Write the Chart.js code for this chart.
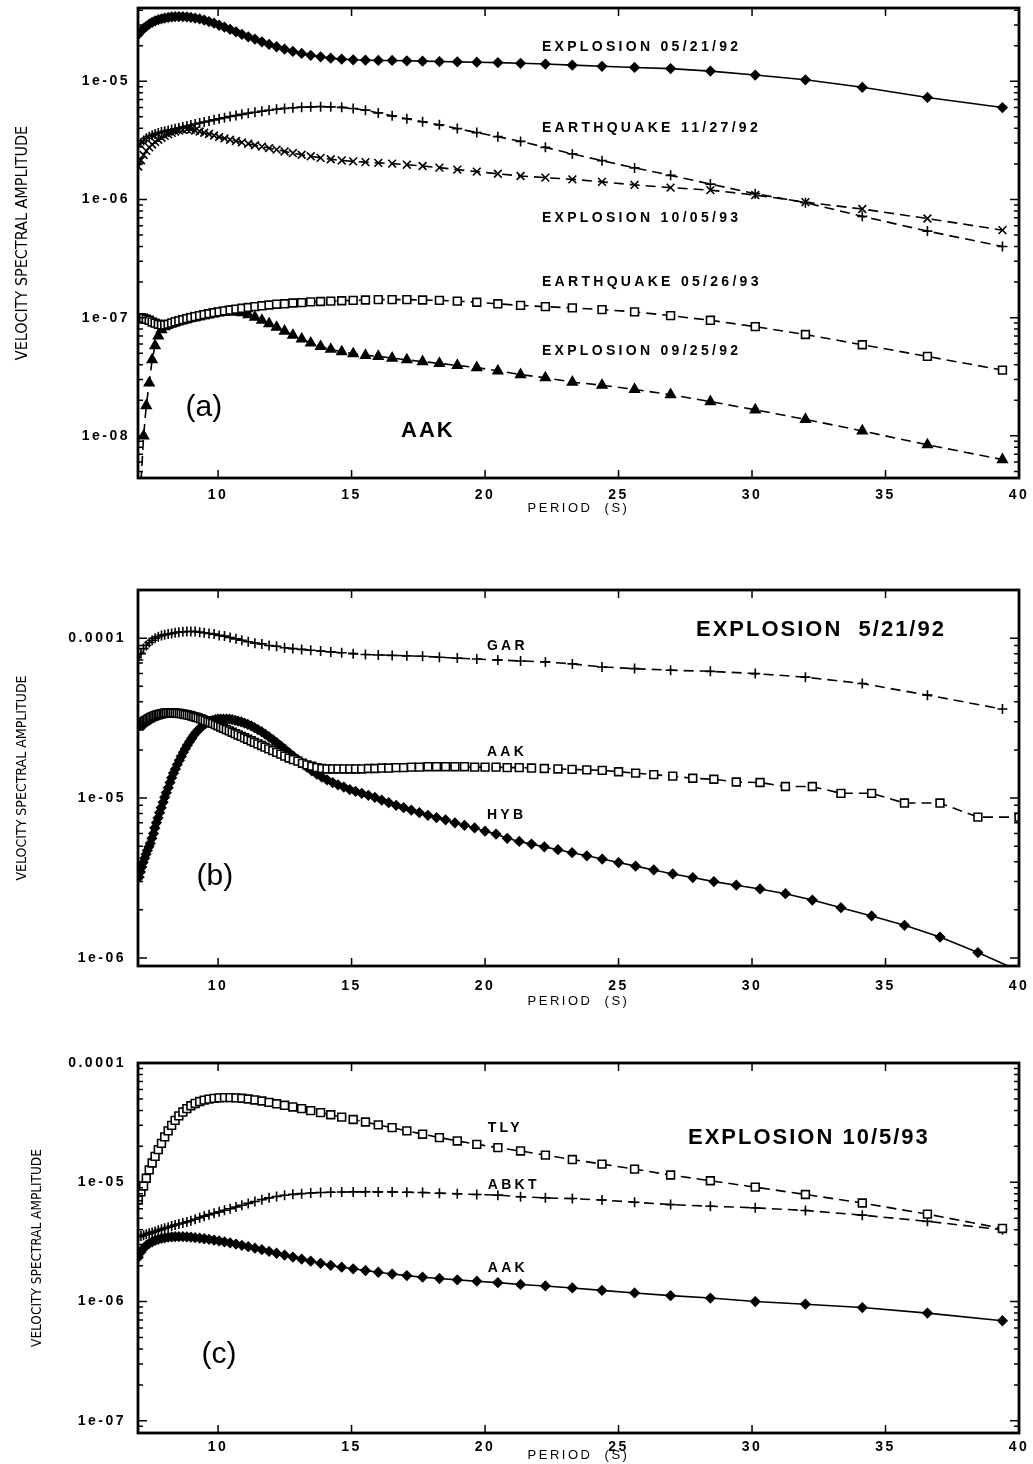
<!DOCTYPE html>
<html>
<head>
<meta charset="utf-8">
<script src="https://cdn.jsdelivr.net/npm/chart.js@4.4.1/dist/chart.umd.min.js"></script>
<style>
body { margin: 0; background: #fff; }
canvas { position: absolute; left: 0; }
</style>
</head>
<body>
<canvas id="panelA" width="1033" height="516" style="top:0px"></canvas>
<canvas id="panelB" width="1033" height="429" style="top:580px"></canvas>
<canvas id="panelC" width="1033" height="410" style="top:1053px"></canvas>
<script>
// sampling periods (s), 1/512 Hz spacing
const periods = [
  7.01, 7.11, 7.21, 7.31, 7.42, 7.53, 7.64, 7.76, 7.88,
  8.00, 8.13, 8.26, 8.39, 8.53, 8.68, 8.83, 8.98,
  9.14, 9.31, 9.48, 9.66, 9.85,
  10.04, 10.24, 10.45, 10.67, 10.89,
  11.13, 11.38, 11.64, 11.91,
  12.19, 12.49, 12.80,
  13.13, 13.47, 13.84,
  14.22, 14.63, 15.06, 15.52, 16.00, 16.52, 17.07, 17.66, 18.29, 18.96,
  19.69, 20.48, 21.33, 22.26, 23.27, 24.38, 25.60, 26.95, 28.44, 30.12,
  32.00, 34.13, 36.57, 39.38
];

// finer sampling (0.001 Hz) used for AAK and HYB in (b)
const periodsFine = [
  7.04, 7.09, 7.14, 7.19, 7.25, 7.30, 7.35, 7.41, 7.46, 7.52,
  7.58, 7.63, 7.69, 7.75, 7.81, 7.87, 7.94, 8.00, 8.06, 8.13,
  8.20, 8.26, 8.33, 8.40, 8.47, 8.55, 8.62, 8.70, 8.77, 8.85,
  8.93, 9.01, 9.09, 9.17, 9.26, 9.35, 9.43, 9.52, 9.62, 9.71,
  9.80, 9.90, 10.00, 10.10, 10.20, 10.31, 10.42, 10.53, 10.64, 10.75,
  10.87, 10.99, 11.11, 11.24, 11.36, 11.49, 11.63, 11.76, 11.90, 12.05,
  12.20, 12.35, 12.50, 12.66, 12.82, 12.99, 13.16, 13.33, 13.51, 13.70,
  13.89, 14.08, 14.29, 14.49, 14.71, 14.93, 15.15, 15.38, 15.63, 15.87,
  16.13, 16.39, 16.67, 16.95, 17.24, 17.54, 17.86, 18.18, 18.52, 18.87,
  19.23, 19.61, 20.00, 20.41, 20.83, 21.28, 21.74, 22.22, 22.73, 23.26,
  23.81, 24.39, 25.00, 25.64, 26.32, 27.03, 27.78, 28.57, 29.41, 30.30,
  31.25, 32.26, 33.33, 34.48, 35.71, 37.04, 38.46, 40.00
];

const periodTicks = [10, 15, 20, 25, 30, 35, 40];

// (a) station AAK, five events
const aakExp920521 = [
  2.5e-5, 2.65e-5, 2.8e-5, 2.92e-5, 3.05e-5, 3.15e-5, 3.24e-5, 3.32e-5, 3.38e-5,
  3.43e-5, 3.47e-5, 3.5e-5, 3.52e-5, 3.53e-5, 3.52e-5, 3.5e-5, 3.47e-5,
  3.43e-5, 3.37e-5, 3.3e-5, 3.2e-5, 3.1e-5,
  2.98e-5, 2.87e-5, 2.75e-5, 2.62e-5, 2.5e-5,
  2.38e-5, 2.27e-5, 2.16e-5, 2.05e-5,
  1.96e-5, 1.87e-5, 1.79e-5,
  1.72e-5, 1.66e-5, 1.61e-5,
  1.57e-5, 1.54e-5, 1.52e-5, 1.51e-5, 1.5e-5, 1.5e-5, 1.49e-5, 1.48e-5, 1.47e-5, 1.46e-5,
  1.45e-5, 1.44e-5, 1.42e-5, 1.4e-5, 1.37e-5, 1.34e-5, 1.31e-5, 1.28e-5, 1.22e-5, 1.13e-5,
  1.03e-5, 8.9e-6, 7.3e-6, 6.0e-6
];
const aakEq921127 = [
  2.8e-6, 3.0e-6, 3.15e-6, 3.3e-6, 3.4e-6, 3.5e-6, 3.58e-6, 3.65e-6, 3.72e-6,
  3.78e-6, 3.84e-6, 3.9e-6, 3.96e-6, 4.02e-6, 4.1e-6, 4.18e-6, 4.26e-6,
  4.35e-6, 4.44e-6, 4.53e-6, 4.62e-6, 4.72e-6,
  4.82e-6, 4.92e-6, 5.03e-6, 5.14e-6, 5.25e-6,
  5.36e-6, 5.47e-6, 5.58e-6, 5.69e-6,
  5.8e-6, 5.9e-6, 5.98e-6,
  6.04e-6, 6.08e-6, 6.1e-6,
  6.08e-6, 6.02e-6, 5.88e-6, 5.7e-6, 5.4e-6, 5.1e-6, 4.82e-6, 4.55e-6, 4.28e-6, 3.98e-6,
  3.68e-6, 3.4e-6, 3.1e-6, 2.76e-6, 2.43e-6, 2.13e-6, 1.85e-6, 1.6e-6, 1.35e-6, 1.12e-6,
  9.4e-7, 7.2e-7, 5.4e-7, 4.0e-7
];
const aakExp931005 = [
  1.9e-6, 2.15e-6, 2.38e-6, 2.58e-6, 2.76e-6, 2.92e-6, 3.07e-6, 3.2e-6, 3.33e-6,
  3.45e-6, 3.56e-6, 3.66e-6, 3.75e-6, 3.83e-6, 3.89e-6, 3.92e-6, 3.9e-6,
  3.84e-6, 3.76e-6, 3.67e-6, 3.58e-6, 3.48e-6,
  3.38e-6, 3.29e-6, 3.2e-6, 3.12e-6, 3.04e-6,
  2.96e-6, 2.88e-6, 2.8e-6, 2.72e-6,
  2.64e-6, 2.55e-6, 2.47e-6,
  2.39e-6, 2.32e-6, 2.25e-6,
  2.19e-6, 2.14e-6, 2.1e-6, 2.07e-6, 2.04e-6, 2.01e-6, 1.97e-6, 1.92e-6, 1.86e-6, 1.79e-6,
  1.72e-6, 1.65e-6, 1.58e-6, 1.53e-6, 1.48e-6, 1.41e-6, 1.33e-6, 1.26e-6, 1.2e-6, 1.09e-6,
  9.5e-7, 8.3e-7, 6.9e-7, 5.5e-7
];
const aakEq930526 = [
  1.0e-7, 1.0e-7, 9.9e-8, 9.7e-8, 9.5e-8, 9.2e-8, 9.0e-8, 8.8e-8, 8.7e-8,
  8.7e-8, 8.8e-8, 9.0e-8, 9.2e-8, 9.4e-8, 9.6e-8, 9.8e-8, 1.0e-7,
  1.02e-7, 1.04e-7, 1.06e-7, 1.08e-7, 1.1e-7,
  1.12e-7, 1.14e-7, 1.16e-7, 1.18e-7, 1.2e-7,
  1.22e-7, 1.24e-7, 1.26e-7, 1.28e-7,
  1.3e-7, 1.31e-7, 1.33e-7,
  1.34e-7, 1.36e-7, 1.37e-7,
  1.38e-7, 1.39e-7, 1.4e-7, 1.41e-7, 1.42e-7, 1.42e-7, 1.42e-7, 1.41e-7, 1.4e-7, 1.38e-7,
  1.35e-7, 1.31e-7, 1.27e-7, 1.24e-7, 1.21e-7, 1.17e-7, 1.12e-7, 1.04e-7, 9.5e-8, 8.4e-8,
  7.2e-8, 5.9e-8, 4.7e-8, 3.6e-8
];
const aakExp920925 = [
  3e-9, 4e-9, 1.0e-8, 1.8e-8, 2.8e-8, 4.4e-8, 5.8e-8, 7.0e-8, 7.9e-8,
  8.4e-8, 8.7e-8, 8.9e-8, 9.1e-8, 9.3e-8, 9.5e-8, 9.7e-8, 9.9e-8,
  1.0e-7, 1.02e-7, 1.04e-7, 1.06e-7, 1.08e-7,
  1.1e-7, 1.11e-7, 1.12e-7, 1.12e-7, 1.1e-7,
  1.06e-7, 1.01e-7, 9.5e-8, 8.9e-8,
  8.3e-8, 7.7e-8, 7.1e-8,
  6.6e-8, 6.1e-8, 5.7e-8,
  5.4e-8, 5.15e-8, 4.95e-8, 4.8e-8, 4.7e-8, 4.55e-8, 4.4e-8, 4.25e-8, 4.1e-8, 3.95e-8,
  3.78e-8, 3.55e-8, 3.3e-8, 3.1e-8, 2.85e-8, 2.68e-8, 2.47e-8, 2.23e-8, 1.95e-8, 1.66e-8,
  1.38e-8, 1.1e-8, 8.4e-9, 6.3e-9
];

// (b) explosion 5/21/92 at three stations
const garExp920521 = [
  7.3e-5, 8.0e-5, 8.6e-5, 9.0e-5, 9.4e-5, 9.7e-5, 1.0e-4, 1.02e-4, 1.04e-4,
  1.05e-4, 1.06e-4, 1.07e-4, 1.08e-4, 1.09e-4, 1.095e-4, 1.1e-4, 1.1e-4,
  1.1e-4, 1.09e-4, 1.08e-4, 1.07e-4, 1.06e-4,
  1.04e-4, 1.03e-4, 1.01e-4, 9.9e-5, 9.7e-5,
  9.5e-5, 9.3e-5, 9.2e-5, 9.0e-5,
  8.9e-5, 8.7e-5, 8.6e-5,
  8.5e-5, 8.4e-5, 8.3e-5,
  8.2e-5, 8.1e-5, 8.0e-5, 7.9e-5, 7.85e-5, 7.8e-5, 7.75e-5, 7.7e-5, 7.6e-5, 7.5e-5,
  7.4e-5, 7.3e-5, 7.2e-5, 7.1e-5, 6.9e-5, 6.6e-5, 6.45e-5, 6.3e-5, 6.2e-5, 6.0e-5,
  5.7e-5, 5.2e-5, 4.4e-5, 3.6e-5
];
const aakExp920521Fine = [
  2.82e-5, 2.87e-5, 2.92e-5, 2.97e-5, 3.02e-5, 3.06e-5, 3.1e-5, 3.14e-5, 3.18e-5, 3.21e-5,
  3.24e-5, 3.27e-5, 3.3e-5, 3.32e-5, 3.34e-5, 3.36e-5, 3.38e-5, 3.39e-5, 3.4e-5, 3.41e-5,
  3.41e-5, 3.41e-5, 3.41e-5, 3.4e-5, 3.39e-5, 3.38e-5, 3.37e-5, 3.35e-5, 3.33e-5, 3.31e-5,
  3.29e-5, 3.26e-5, 3.23e-5, 3.2e-5, 3.17e-5, 3.13e-5, 3.09e-5, 3.05e-5, 3.01e-5, 2.97e-5,
  2.93e-5, 2.88e-5, 2.83e-5, 2.78e-5, 2.73e-5, 2.68e-5, 2.63e-5, 2.58e-5, 2.53e-5, 2.48e-5,
  2.43e-5, 2.38e-5, 2.33e-5, 2.28e-5, 2.23e-5, 2.18e-5, 2.13e-5, 2.08e-5, 2.03e-5, 1.98e-5,
  1.93e-5, 1.88e-5, 1.83e-5, 1.78e-5, 1.74e-5, 1.7e-5, 1.65e-5, 1.61e-5, 1.58e-5, 1.55e-5,
  1.53e-5, 1.52e-5, 1.52e-5, 1.52e-5, 1.52e-5, 1.52e-5, 1.52e-5, 1.52e-5, 1.53e-5, 1.53e-5,
  1.54e-5, 1.54e-5, 1.55e-5, 1.55e-5, 1.56e-5, 1.56e-5, 1.57e-5, 1.57e-5, 1.57e-5, 1.57e-5,
  1.57e-5, 1.56e-5, 1.56e-5, 1.56e-5, 1.55e-5, 1.55e-5, 1.54e-5, 1.53e-5, 1.52e-5, 1.51e-5,
  1.5e-5, 1.49e-5, 1.46e-5, 1.43e-5, 1.4e-5, 1.37e-5, 1.33e-5, 1.31e-5, 1.26e-5, 1.25e-5,
  1.18e-5, 1.18e-5, 1.07e-5, 1.07e-5, 9.3e-6, 9.3e-6, 7.6e-6, 7.6e-6
];
const hybExp920521 = [
  3.2e-6, 3.45e-6, 3.7e-6, 3.95e-6, 4.2e-6, 4.45e-6, 4.7e-6, 4.95e-6, 5.2e-6, 5.6e-6,
  6.0e-6, 6.5e-6, 7.0e-6, 7.5e-6, 8.1e-6, 8.7e-6, 9.4e-6, 1.01e-5, 1.08e-5, 1.16e-5,
  1.25e-5, 1.34e-5, 1.43e-5, 1.52e-5, 1.62e-5, 1.72e-5, 1.82e-5, 1.93e-5, 2.03e-5, 2.14e-5,
  2.25e-5, 2.36e-5, 2.47e-5, 2.57e-5, 2.67e-5, 2.76e-5, 2.84e-5, 2.91e-5, 2.97e-5, 3.02e-5,
  3.06e-5, 3.09e-5, 3.11e-5, 3.12e-5, 3.12e-5, 3.12e-5, 3.11e-5, 3.09e-5, 3.06e-5, 3.03e-5,
  2.99e-5, 2.94e-5, 2.89e-5, 2.83e-5, 2.76e-5, 2.68e-5, 2.6e-5, 2.51e-5, 2.42e-5, 2.32e-5,
  2.22e-5, 2.12e-5, 2.02e-5, 1.92e-5, 1.83e-5, 1.74e-5, 1.65e-5, 1.56e-5, 1.48e-5, 1.41e-5,
  1.35e-5, 1.3e-5, 1.25e-5, 1.21e-5, 1.17e-5, 1.13e-5, 1.1e-5, 1.07e-5, 1.04e-5, 1.01e-5,
  9.7e-6, 9.35e-6, 9.0e-6, 8.7e-6, 8.4e-6, 8.1e-6, 7.8e-6, 7.55e-6, 7.3e-6, 7.0e-6,
  6.75e-6, 6.5e-6, 6.2e-6, 5.95e-6, 5.6e-6, 5.35e-6, 5.15e-6, 4.95e-6, 4.75e-6, 4.55e-6,
  4.35e-6, 4.15e-6, 3.95e-6, 3.75e-6, 3.55e-6, 3.35e-6, 3.18e-6, 3.0e-6, 2.85e-6, 2.7e-6,
  2.52e-6, 2.3e-6, 2.06e-6, 1.83e-6, 1.6e-6, 1.35e-6, 1.08e-6, 8.3e-7
];

// (c) explosion 10/5/93 at three stations
const tlyExp931005 = [
  7.1e-6, 8.3e-6, 9.3e-6, 1.08e-5, 1.27e-5, 1.45e-5, 1.65e-5, 1.88e-5, 2.12e-5,
  2.4e-5, 2.7e-5, 3.0e-5, 3.3e-5, 3.6e-5, 3.88e-5, 4.14e-5, 4.38e-5,
  4.58e-5, 4.75e-5, 4.88e-5, 4.98e-5, 5.05e-5,
  5.1e-5, 5.12e-5, 5.12e-5, 5.1e-5, 5.06e-5,
  4.99e-5, 4.9e-5, 4.8e-5, 4.68e-5,
  4.55e-5, 4.42e-5, 4.28e-5,
  4.14e-5, 3.99e-5, 3.84e-5,
  3.68e-5, 3.52e-5, 3.36e-5, 3.2e-5, 3.03e-5, 2.87e-5, 2.7e-5, 2.53e-5, 2.37e-5, 2.22e-5,
  2.08e-5, 1.95e-5, 1.83e-5, 1.69e-5, 1.55e-5, 1.42e-5, 1.29e-5, 1.15e-5, 1.03e-5, 9.1e-6,
  7.9e-6, 6.7e-6, 5.4e-6, 4.1e-6
];
const abktExp931005 = [
  3.5e-6, 3.55e-6, 3.6e-6, 3.66e-6, 3.73e-6, 3.8e-6, 3.87e-6, 3.95e-6, 4.03e-6,
  4.11e-6, 4.2e-6, 4.29e-6, 4.38e-6, 4.47e-6, 4.56e-6, 4.65e-6, 4.75e-6,
  4.9e-6, 5.05e-6, 5.2e-6, 5.35e-6, 5.5e-6,
  5.65e-6, 5.82e-6, 6.0e-6, 6.2e-6, 6.42e-6,
  6.65e-6, 6.9e-6, 7.15e-6, 7.4e-6,
  7.6e-6, 7.78e-6, 7.92e-6,
  8.03e-6, 8.12e-6, 8.2e-6,
  8.25e-6, 8.28e-6, 8.3e-6, 8.3e-6, 8.3e-6, 8.3e-6, 8.25e-6, 8.2e-6, 8.1e-6, 8.0e-6,
  7.9e-6, 7.8e-6, 7.55e-6, 7.4e-6, 7.3e-6, 7.1e-6, 6.8e-6, 6.5e-6, 6.3e-6, 6.1e-6,
  5.8e-6, 5.3e-6, 4.7e-6, 4.0e-6
];
const aakExp931005C = [
  2.35e-6, 2.6e-6, 2.8e-6, 2.95e-6, 3.07e-6, 3.17e-6, 3.25e-6, 3.32e-6, 3.38e-6,
  3.42e-6, 3.46e-6, 3.48e-6, 3.5e-6, 3.5e-6, 3.5e-6, 3.48e-6, 3.46e-6,
  3.43e-6, 3.4e-6, 3.36e-6, 3.32e-6, 3.27e-6,
  3.22e-6, 3.16e-6, 3.1e-6, 3.03e-6, 2.96e-6,
  2.88e-6, 2.8e-6, 2.72e-6, 2.63e-6,
  2.54e-6, 2.45e-6, 2.36e-6,
  2.27e-6, 2.18e-6, 2.09e-6,
  2.01e-6, 1.94e-6, 1.88e-6, 1.82e-6, 1.76e-6, 1.7e-6, 1.65e-6, 1.6e-6, 1.56e-6, 1.52e-6,
  1.48e-6, 1.44e-6, 1.39e-6, 1.35e-6, 1.3e-6, 1.24e-6, 1.18e-6, 1.12e-6, 1.07e-6, 1.0e-6,
  9.5e-7, 8.9e-7, 8.0e-7, 6.9e-7
];

const SANS = '"Liberation Sans", Arial, sans-serif';
const NARROW = '"Liberation Sans Narrow", "DejaVu Sans Condensed", "Arial Narrow", sans-serif';
const NOTE = 'bold 14px ' + SANS;
const BIG = 'bold 22px ' + SANS;
const TAG = '30px ' + SANS;

Chart.defaults.color = '#000';
Chart.defaults.font.family = SANS;

const DIAMOND = { style: 'rectRot', r: 4.5, fill: '#000' };
const PLUS = { style: 'cross', r: 5, fill: '#000' };
const XMARK = { style: 'crossRot', r: 5.5, fill: '#000' };
const SQUARE = { style: 'rect', r: 5.5, fill: '#fff' };
const TRIANGLE = { style: 'triangle', r: 5.5, fill: '#000' };

function series(label, xs, ys, mark, dashed) {
  return {
    label: label,
    data: xs.map((x, i) => ({ x: x, y: ys[i] })),
    borderColor: '#000',
    borderWidth: 1.6,
    borderDash: dashed ? [10, 6] : [],
    tension: 0,
    pointStyle: mark.style,
    pointRadius: mark.r,
    pointBorderWidth: 1.6,
    pointBorderColor: '#000',
    pointBackgroundColor: mark.fill
  };
}

// gnuplot-style labels: 0.0001, 1e-05, 1e-06 ...
function decadeLabel(v) {
  const lg = Math.log10(v);
  const e = Math.round(lg);
  if (Math.abs(lg - e) > 1e-6) return '';
  return e >= -4 ? String(Math.pow(10, e)) : '1e-' + String(-e).padStart(2, '0');
}

// frame plus inward tick marks on all four sides
function drawFrame(chart) {
  const { ctx, chartArea: a, scales } = chart;
  ctx.save();
  ctx.strokeStyle = '#000';
  ctx.lineWidth = 1.5;
  ctx.beginPath();
  scales.y.ticks.forEach(t => {
    const e = Math.floor(Math.log10(t.value) + 1e-9);
    const m = t.value / Math.pow(10, e);
    if (Math.abs(m - Math.round(m)) > 0.02) return;
    const len = (Math.round(m) === 1 || Math.round(m) === 10) ? 9 : 5;
    const py = scales.y.getPixelForValue(t.value);
    ctx.moveTo(a.left, py); ctx.lineTo(a.left + len, py);
    ctx.moveTo(a.right, py); ctx.lineTo(a.right - len, py);
  });
  scales.x.ticks.forEach(t => {
    const px = scales.x.getPixelForValue(t.value);
    ctx.moveTo(px, a.bottom); ctx.lineTo(px, a.bottom - 8);
    ctx.moveTo(px, a.top); ctx.lineTo(px, a.top + 8);
  });
  ctx.stroke();
  ctx.lineWidth = 2.8;
  ctx.strokeRect(a.left, a.top, a.right - a.left, a.bottom - a.top);
  ctx.restore();
}

function drawNotes(chart, notes) {
  const { ctx, scales } = chart;
  ctx.save();
  ctx.fillStyle = '#000';
  ctx.textBaseline = 'middle';
  notes.forEach(n => {
    ctx.font = n.font;
    ctx.letterSpacing = n.spacing || '0px';
    ctx.textAlign = n.align || 'left';
    ctx.fillText(n.text, scales.x.getPixelForValue(n.x), scales.y.getPixelForValue(n.y));
  });
  ctx.restore();
}

function panelPlugin(notes) {
  return {
    id: 'panelDecor',
    beforeDraw(chart) { chart.ctx.letterSpacing = '0px'; },
    afterDatasetsDraw(chart) {
      drawFrame(chart);
      // tick labels and the period title are drawn after this with wide spacing
      chart.ctx.letterSpacing = '2.5px';
    },
    afterDraw(chart) {
      drawNotes(chart, notes);
      chart.ctx.letterSpacing = '0px';
    }
  };
}

function makePanel(id, p) {
  return new Chart(document.getElementById(id), {
    type: 'line',
    data: { datasets: p.datasets },
    options: {
      responsive: false,
      animation: false,
      events: [],
      layout: { padding: { top: p.padTop, right: 14, bottom: 0, left: 0 } },
      plugins: { legend: { display: false }, tooltip: { enabled: false } },
      scales: {
        x: {
          type: 'linear', min: 7, max: 40,
          afterBuildTicks: s => { s.ticks = periodTicks.map(v => ({ value: v })); },
          grid: { display: false, drawTicks: false, z: 1 },
          border: { display: false },
          ticks: { autoSkip: false, maxRotation: 0, padding: p.xTickPad, z: 1,
                   font: { size: 14, weight: 'bold' } },
          title: { display: true, text: 'PERIOD  (S)', font: { size: 13 },
                   padding: { top: 0, bottom: 0 } },
          afterFit: s => { s.height = p.xHeight; s.paddingLeft = 0; s.paddingRight = 0; }
        },
        y: {
          type: 'logarithmic', min: p.yMin, max: p.yMax,
          grid: { display: false, drawTicks: false },
          border: { display: false },
          ticks: { autoSkip: false, padding: p.yTickPad, z: 1, callback: decadeLabel,
                   font: { size: 14, weight: 'bold' } },
          title: { display: true, text: 'VELOCITY SPECTRAL AMPLITUDE',
                   font: { family: NARROW, size: p.yTitleSize },
                   padding: { top: p.yTitlePad, bottom: 0 } },
          afterFit: s => { s.width = 138; s.paddingTop = 0; s.paddingBottom = 0; }
        }
      }
    },
    plugins: [panelPlugin(p.notes)]
  });
}

makePanel('panelA', {
  padTop: 8, xHeight: 38, xTickPad: 9, yTickPad: 8,
  yMin: 4.4e-9, yMax: 4.17e-5, yTitleSize: 16, yTitlePad: 13,
  datasets: [
    series('EXPLOSION 05/21/92', periods, aakExp920521, DIAMOND, false),
    series('EARTHQUAKE 11/27/92', periods, aakEq921127, PLUS, true),
    series('EXPLOSION 10/05/93', periods, aakExp931005, XMARK, true),
    series('EARTHQUAKE 05/26/93', periods, aakEq930526, SQUARE, true),
    series('EXPLOSION 09/25/92', periods, aakExp920925, TRIANGLE, true)
  ],
  notes: [
    { text: 'EXPLOSION 05/21/92', x: 22.13, y: 1.94e-5, font: NOTE, spacing: '3.3px' },
    { text: 'EARTHQUAKE 11/27/92', x: 22.13, y: 4.0e-6, font: NOTE, spacing: '3.3px' },
    { text: 'EXPLOSION 10/05/93', x: 22.13, y: 7.0e-7, font: NOTE, spacing: '3.3px' },
    { text: 'EARTHQUAKE 05/26/93', x: 22.13, y: 2.0e-7, font: NOTE, spacing: '3.3px' },
    { text: 'EXPLOSION 09/25/92', x: 22.13, y: 5.2e-8, font: NOTE, spacing: '3.3px' },
    { text: '(a)', x: 9.47, y: 1.74e-8, font: TAG, align: 'center' },
    { text: 'AAK', x: 17.86, y: 1.1e-8, font: BIG, spacing: '2px', align: 'center' }
  ]
});

makePanel('panelB', {
  padTop: 10, xHeight: 43, xTickPad: 12, yTickPad: 12,
  yMin: 8.9e-7, yMax: 2.0e-4, yTitleSize: 14, yTitlePad: 14,
  datasets: [
    series('GAR', periods, garExp920521, PLUS, true),
    series('AAK', periodsFine, aakExp920521Fine, SQUARE, true),
    series('HYB', periodsFine, hybExp920521, DIAMOND, false)
  ],
  notes: [
    { text: 'EXPLOSION  5/21/92', x: 27.9, y: 1.12e-4, font: BIG, spacing: '2px' },
    { text: 'GAR', x: 20.07, y: 8.9e-5, font: NOTE, spacing: '3.3px' },
    { text: 'AAK', x: 20.07, y: 1.94e-5, font: NOTE, spacing: '3.3px' },
    { text: 'HYB', x: 20.07, y: 7.8e-6, font: NOTE, spacing: '3.3px' },
    { text: '(b)', x: 9.88, y: 3.2e-6, font: TAG, align: 'center' }
  ]
});

makePanel('panelC', {
  padTop: 10, xHeight: 30, xTickPad: 6, yTickPad: 12,
  yMin: 7.9e-8, yMax: 1e-4, yTitleSize: 13.5, yTitlePad: 29,
  datasets: [
    series('TLY', periods, tlyExp931005, SQUARE, true),
    series('ABKT', periods, abktExp931005, PLUS, true),
    series('AAK', periods, aakExp931005C, DIAMOND, false)
  ],
  notes: [
    { text: 'EXPLOSION 10/5/93', x: 27.6, y: 2.34e-5, font: BIG, spacing: '2px' },
    { text: 'TLY', x: 20.1, y: 2.84e-5, font: NOTE, spacing: '3.3px' },
    { text: 'ABKT', x: 20.1, y: 9.4e-6, font: NOTE, spacing: '3.3px' },
    { text: 'AAK', x: 20.1, y: 1.9e-6, font: NOTE, spacing: '3.3px' },
    { text: '(c)', x: 10.03, y: 3.6e-7, font: TAG, align: 'center' }
  ]
});
</script>
</body>
</html>
